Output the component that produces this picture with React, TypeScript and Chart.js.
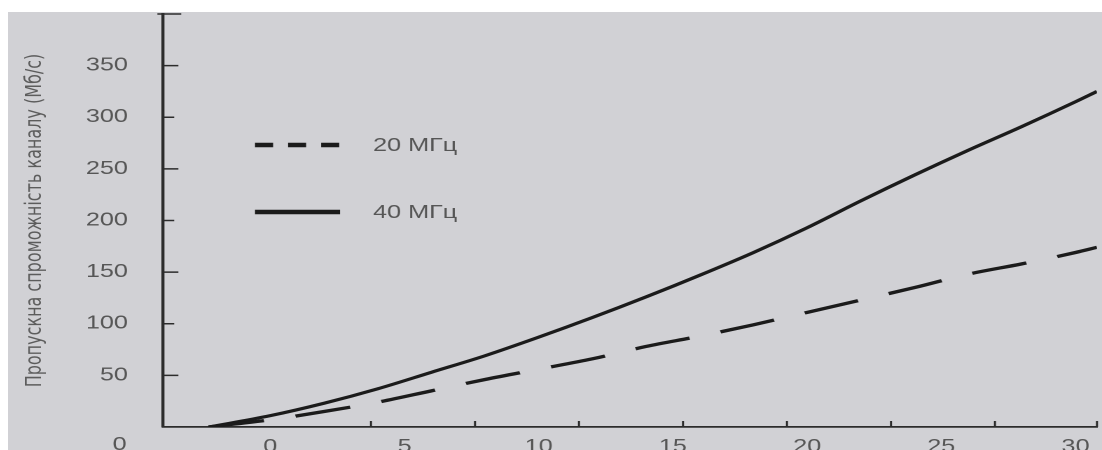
import React, { useEffect, useRef } from 'react';
import { Chart, registerables } from 'chart.js';

Chart.register(...registerables);

// ---- data ----
const snrDb = [-2.3, 0, 2, 4, 6, 8, 10, 12, 14, 16, 18, 20, 22, 24, 26, 28, 30, 30.8];
const rate20 = [0, 7, 15, 24, 35, 46, 56, 66, 78, 88, 99, 111, 123, 135, 148, 158, 169, 174];
const rate40 = [0, 11, 23, 37, 53, 69, 87, 106, 126, 147, 169, 193, 219, 244, 268, 291, 315, 325];
const seriesLabels = ['20 МГц', '40 МГц'];
const xTickLabels = [0, 5, 10, 15, 20, 25, 30];
const xTickMarks = [3.75, 7.625, 11.5, 15.375, 19.25, 23.125, 27, 30.8];
const yTickLabels = [0, 50, 100, 150, 200, 250, 300, 350];
const yTickMarks = [50, 100, 150, 200, 250, 300, 350, 400];
const yTitle = 'Пропускна спроможність каналу (Мб/с)';

// ---- styles ----
const LINE = '#1b1b1b';
const AXIS = '#2c2c2c';
const TEXT = '#565656';
const FONT = '"Liberation Sans", Arial, sans-serif';
const CANVAS_W = 781;
const CANVAS_H = 438;
const STRETCH = 1094 / CANVAS_W;

const overlay = {
  id: 'overlay',
  afterDraw(chart: any) {
    const { ctx, chartArea, scales } = chart;
    const x = scales.x;
    const y = scales.y;
    ctx.save();
    ctx.strokeStyle = AXIS;
    ctx.lineWidth = 1.5;
    ctx.setLineDash([]);
    // inward ticks on the y axis
    yTickMarks.forEach((v) => {
      const py = y.getPixelForValue(v);
      const len = v === 400 ? 13 : v % 100 === 0 ? 8 : 11;
      const start = v === 400 ? chartArea.left - 4 : chartArea.left;
      ctx.beginPath();
      ctx.moveTo(start, py);
      ctx.lineTo(chartArea.left + len, py);
      ctx.stroke();
    });
    // inward ticks on the x axis
    xTickMarks.forEach((v) => {
      const px = x.getPixelForValue(v);
      ctx.beginPath();
      ctx.moveTo(px, chartArea.bottom);
      ctx.lineTo(px, chartArea.bottom - 6);
      ctx.stroke();
    });
    // the y "0" label sits on the x-label row in the original
    ctx.fillStyle = TEXT;
    ctx.font = `18px ${FONT}`;
    ctx.textAlign = 'right';
    ctx.textBaseline = 'middle';
    ctx.fillText(String(yTickLabels[0]), chartArea.left - 26, y.getPixelForValue(yTickLabels[0]) + 18);
    // legend inside plot
    const ds = chart.data.datasets;
    const lx0 = chartArea.left + 65.7;
    const lx1 = lx0 + 60.7;
    ds.forEach((d: any, i: number) => {
      const ly = chartArea.top + 131 + i * 67;
      ctx.strokeStyle = LINE;
      ctx.lineWidth = 4.5;
      ctx.lineCap = 'butt';
      ctx.setLineDash(d.borderDash && d.borderDash.length ? [12.9, 10.7] : []);
      ctx.beginPath();
      ctx.moveTo(lx0, ly);
      ctx.lineTo(lx1, ly);
      ctx.stroke();
      ctx.setLineDash([]);
      ctx.fillStyle = TEXT;
      ctx.font = `18px ${FONT}`;
      ctx.textAlign = 'left';
      ctx.textBaseline = 'middle';
      ctx.fillText(d.label, lx1 + 23.6, ly + 1);
    });
    ctx.restore();
  },
};

export default function App() {
  const ref = useRef<HTMLCanvasElement>(null);
  useEffect(() => {
    const chart = new Chart(ref.current as HTMLCanvasElement, {
      type: 'line',
      data: {
        datasets: [
          {
            label: seriesLabels[0],
            data: snrDb.map((x, i) => ({ x, y: rate20[i] })),
            borderColor: LINE,
            borderWidth: 3.3,
            borderDash: [40, 23],
            pointRadius: 0,
            cubicInterpolationMode: 'monotone',
            fill: false,
          },
          {
            label: seriesLabels[1],
            data: snrDb.map((x, i) => ({ x, y: rate40[i] })),
            borderColor: LINE,
            borderWidth: 3.1,
            borderDash: [],
            pointRadius: 0,
            cubicInterpolationMode: 'monotone',
            fill: false,
          },
        ],
      },
      options: {
        animation: false,
        responsive: false,
        devicePixelRatio: 2,
        layout: { padding: { left: 0, top: 2, right: 3.6, bottom: 0 } },
        plugins: { legend: { display: false }, tooltip: { enabled: false } },
        scales: {
          x: {
            type: 'linear',
            min: -4,
            max: 30.8,
            grid: { display: false, drawTicks: false },
            border: { display: true, color: AXIS, width: 1.8 },
            ticks: {
              color: TEXT,
              font: { size: 18, family: FONT },
              padding: 9,
              autoSkip: false,
              maxRotation: 0,
              callback: (v: any) => String(v),
            },
            afterBuildTicks: (s: any) => {
              s.ticks = xTickLabels.map((v) => ({ value: v }));
            },
            afterFit: (s: any) => {
              s.height = 23;
              s.paddingLeft = 0;
              s.paddingRight = 0;
            },
          },
          y: {
            type: 'linear',
            min: 0,
            max: 400,
            grid: { display: false, drawTicks: false },
            border: { display: true, color: AXIS, width: 2.2 },
            ticks: {
              color: TEXT,
              font: { size: 18, family: FONT },
              padding: 25,
              callback: (v: any) => (v === yTickLabels[0] ? '' : String(v)),
            },
            afterBuildTicks: (s: any) => {
              s.ticks = yTickLabels.map((v) => ({ value: v }));
            },
            title: {
              display: true,
              text: yTitle,
              color: '#5c5c5c',
              font: { size: 16, family: '"DejaVu Sans", sans-serif' },
              padding: { top: 9.7, bottom: 0 },
            },
            afterFit: (s: any) => {
              s.width = 110.65;
              s.paddingTop = 0;
              s.paddingBottom = 0;
            },
          },
        },
      },
      plugins: [overlay],
    } as any);
    return () => chart.destroy();
  }, []);

  return (
    <div
      style={{
        position: 'absolute',
        left: 8,
        top: 12,
        width: 1094,
        height: 438,
        background: '#d1d1d5',
        overflow: 'hidden',
      }}
    >
      <div
        style={{
          width: CANVAS_W,
          height: CANVAS_H,
          transform: `scaleX(${STRETCH})`,
          transformOrigin: '0 0',
        }}
      >
        <canvas ref={ref} width={CANVAS_W} height={CANVAS_H} />
      </div>
    </div>
  );
}
